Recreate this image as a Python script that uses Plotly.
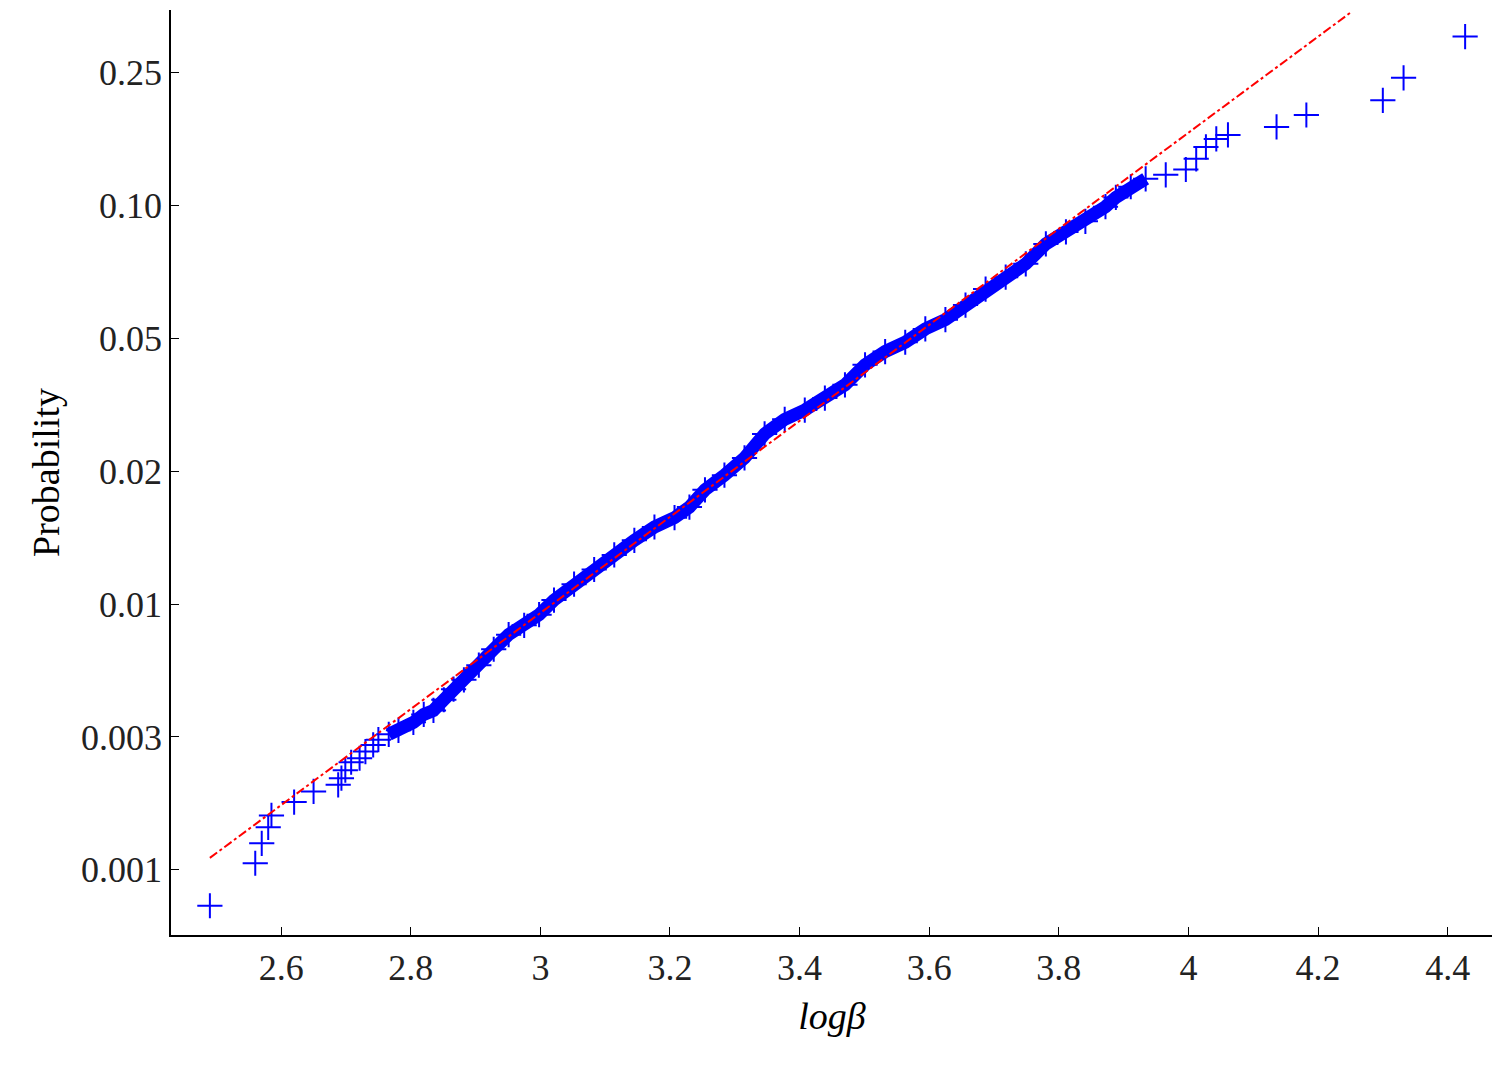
import plotly.graph_objects as go

# y positions are the equally spaced probability-scale ticks (0 -> 0.001 ... 6 -> 0.25)
y_tick_pos = [0, 1, 2, 3, 4, 5, 6]
y_tick_text = ["0.001", "0.003", "0.01", "0.02", "0.05", "0.10", "0.25"]
x_ticks = [2.6, 2.8, 3, 3.2, 3.4, 3.6, 3.8, 4, 4.2, 4.4]

log_beta = [2.49, 2.56, 2.57, 2.58, 2.585, 2.62, 2.65, 2.688, 2.693, 2.699, 2.708, 2.721,
            2.730, 2.742, 2.750, 2.766, 2.781, 2.804, 2.820, 2.835, 2.851, 2.866, 2.882,
            2.905, 2.928, 2.951, 2.975, 2.998, 3.021, 3.052, 3.083, 3.114, 3.145, 3.176,
            3.207, 3.230, 3.254, 3.284, 3.315, 3.346, 3.377, 3.408, 3.439, 3.470, 3.501,
            3.532, 3.563, 3.594, 3.625, 3.656, 3.687, 3.718, 3.749, 3.780, 3.811, 3.841,
            3.872, 3.888, 3.911, 3.934, 3.965, 3.996, 4.012, 4.027, 4.043, 4.061, 4.136,
            4.182, 4.300, 4.332, 4.427]
prob_pos = [-0.27, 0.05, 0.20, 0.32, 0.41, 0.51, 0.59, 0.64, 0.69, 0.75, 0.81, 0.84,
            0.89, 0.94, 0.98, 1.02, 1.05, 1.11, 1.17, 1.20, 1.28, 1.36, 1.43,
            1.54, 1.66, 1.77, 1.84, 1.92, 2.03, 2.15, 2.26, 2.37, 2.48, 2.58,
            2.65, 2.73, 2.86, 2.97, 3.10, 3.28, 3.39, 3.46, 3.55, 3.65, 3.80,
            3.90, 3.97, 4.07, 4.14, 4.25, 4.37, 4.46, 4.56, 4.71, 4.80, 4.88,
            4.99, 5.06, 5.14, 5.20, 5.23, 5.27, 5.35, 5.44, 5.50, 5.53, 5.59,
            5.68, 5.79, 5.96, 6.27]

fit_x = [2.49, 4.25]
fit_y = [0.09, 6.45]

blue = "#0000ff"
fig = go.Figure()
# dense band of overlapping crosses in the middle
fig.add_trace(go.Scatter(x=log_beta[15:60], y=prob_pos[15:60], mode="lines",
                         line=dict(color=blue, width=13), hoverinfo="skip"))
fig.add_trace(go.Scatter(x=log_beta, y=prob_pos, mode="markers",
                         marker=dict(symbol="cross-thin", size=18, color=blue,
                                     line=dict(color=blue, width=2))))
fig.add_trace(go.Scatter(x=fit_x, y=fit_y, mode="lines",
                         line=dict(color="red", width=2, dash="dashdot")))

axis_common = dict(showline=True, linecolor="black", linewidth=1.5, ticks="inside",
                   ticklen=8, tickcolor="black", showgrid=False, zeroline=False,
                   mirror=False, tickfont=dict(size=36, color="#222"))
fig.update_layout(
    width=1500, height=1066, plot_bgcolor="white", paper_bgcolor="white",
    showlegend=False, margin=dict(l=163, r=15, t=2, b=139),
    font=dict(family="Liberation Serif", color="black"),
    xaxis=dict(range=[2.43, 4.47], tickvals=x_ticks,
               ticktext=["2.6", "2.8", "3", "3.2", "3.4", "3.6", "3.8", "4", "4.2", "4.4"],
               title=dict(text="<i>logβ</i>", font=dict(size=38), standoff=15), **axis_common),
    yaxis=dict(range=[-0.49, 6.47], tickvals=y_tick_pos, ticktext=y_tick_text,
               title=dict(text="Probability", font=dict(size=38), standoff=10), **axis_common),
)
fig.write_html("out.html")
